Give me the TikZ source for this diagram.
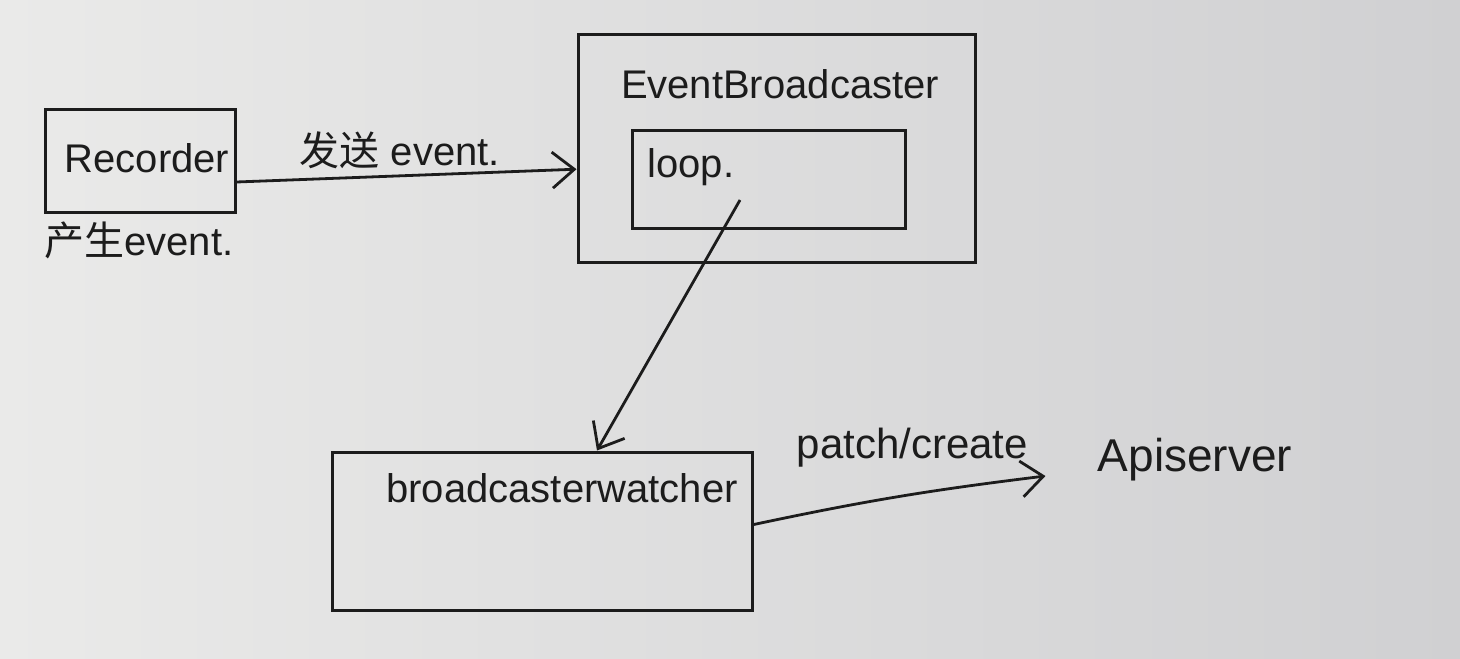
\documentclass[tikz,border=0pt]{standalone}
\usepackage{fontspec}
\setmainfont{Liberation Sans}
\newfontfamily\cjk{Noto Sans CJK SC}
\usetikzlibrary{arrows.meta,calc}
\definecolor{bgl}{RGB}{234,234,233}
\definecolor{bgr}{RGB}{208,208,210}
\definecolor{ink}{RGB}{28,28,28}
\tikzset{
  sketchbox/.style={draw=ink,line width=1.5pt,inner sep=0pt},
  lbl/.style={text=ink,font=\fontsize{20}{22}\selectfont,inner sep=1pt},
  conn/.style={draw=ink,line width=1.4pt,-{Straight Barb[length=11pt,width=18pt,line width=1.4pt]}},
}
\begin{document}
\begin{tikzpicture}[x=0.5pt,y=-0.5pt]
\useasboundingbox (0,0) rectangle (1460,658);
\shade[left color=bgl,right color=bgr] (0,0) rectangle (1460,658);
% Recorder
\node[sketchbox,minimum width=95pt,minimum height=51pt] (rec) at (140,161) {};
\node[lbl] (rect) at (147,158) {Recorder};
\node[lbl,anchor=west] (gen) at (42,240) {\cjk 产生\normalfont event.};
% EventBroadcaster
\node[sketchbox,minimum width=198.5pt,minimum height=113.5pt] (eb) at (776.5,148.5) {};
\node[lbl] (ebt) at (780,84) {EventBroadcaster};
\node[sketchbox,minimum width=136.5pt,minimum height=49pt] (loop) at (768.5,179) {};
\node[lbl,anchor=north west] (loopt) at (645,146) {loop.};
\coordinate (ls) at (740,200);
% watcher
\node[sketchbox,minimum width=210pt,minimum height=79pt] (w) at (542,531) {};
\node[lbl] (wt) at (562,488) {broadcasterwatcher};
% apiserver
\node[lbl,font=\fontsize{23}{25}\selectfont] (api) at (1195,460) {Apiserver};
\coordinate (pe) at ($(api.west)+(-50,16)$);
% connectors
\draw[conn] ($(rec.south east)!0.3!(rec.north east)$) -- node[lbl,above=2pt,pos=0.48] (sendl) {\cjk 发送\normalfont\ event.} ($(eb.north west)!0.59!(eb.south west)$);
\draw[conn] (ls) -- ($(w.north west)!0.63!(w.north east)$);
\draw[conn] ($(w.north east)!0.46!(w.south east)$) to[out=12,in=187] node[lbl,font=\fontsize{21}{23}\selectfont,above=12pt,pos=0.55] (pcl) {patch/create} (pe);
\end{tikzpicture}
\end{document}
